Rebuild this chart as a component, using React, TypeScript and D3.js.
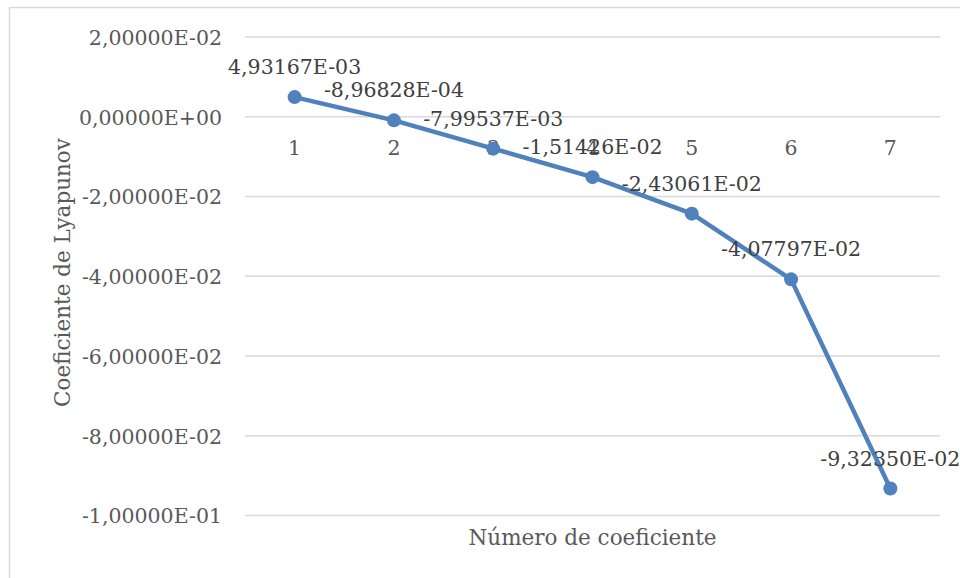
import React from "react";
import * as d3 from "d3";

const categories = ["1", "2", "3", "4", "5", "6", "7"];
const values = [4.93167e-3, -8.96828e-4, -7.99537e-3, -1.51426e-2, -2.43061e-2, -4.07797e-2, -9.3235e-2];
const yTicks = [0.02, 0, -0.02, -0.04, -0.06, -0.08, -0.1];
const xTitle = "Número de coeficiente";
const yTitle = "Coeficiente de Lyapunov";

function fmt(v: number): string {
  const [m, e] = v.toExponential(5).split("e");
  const ex = parseInt(e, 10);
  const sign = ex < 0 ? "-" : "+";
  const ee = String(Math.abs(ex)).padStart(2, "0");
  return m.replace(".", ",") + "E" + sign + ee;
}

export default function App() {
  const W = 960, H = 578;
  const left = 245, right = 940;
  const x = d3.scaleBand<string>().domain(categories).range([left, right]);
  const y = d3.scaleLinear().domain([-0.1, 0.02]).range([515.5, 37]);
  const font = "'DejaVu Serif', serif";
  const fs = 20.5;
  const textColor = "#595959";
  const cx = (c: string) => (x(c) as number) + x.bandwidth() / 2;
  const line = d3
    .line<number>()
    .x((_, i) => cx(categories[i]))
    .y((d) => y(d));

  return (
    <svg width={W} height={H} style={{ position: "absolute", left: 0, top: 0 }} fontFamily={font}>
      <rect x={0} y={0} width={W} height={H} fill="#fff" />
      <rect x={9.5} y={7.5} width={W + 10} height={H + 10} fill="none" stroke="#d9d9d9" strokeWidth={1.5} />
      {yTicks.map((t) => (
        <g key={t}>
          <line x1={left} x2={right} y1={y(t)} y2={y(t)} stroke="#d9d9d9" strokeWidth={1.5} />
          <text x={222} y={y(t)} dy="0.38em" textAnchor="end" fontSize={fs} fill={textColor}>
            {fmt(t)}
          </text>
        </g>
      ))}
      {categories.map((c) => (
        <text key={c} x={cx(c)} y={155} textAnchor="middle" fontSize={fs} fill={textColor}>
          {c}
        </text>
      ))}
      <path d={line(values) as string} fill="none" stroke="#4f81bd" strokeWidth={4.5} strokeLinejoin="round" />
      {values.map((v, i) => (
        <circle key={i} cx={cx(categories[i])} cy={y(v)} r={7} fill="#4f81bd" />
      ))}
      {values.map((v, i) => (
        <text key={"l" + i} x={cx(categories[i])} y={y(v) - 23} textAnchor="middle" fontSize={fs} fill="#404040">
          {fmt(v)}
        </text>
      ))}
      <text x={(left + right) / 2} y={545} textAnchor="middle" fontSize={21.5} fill={textColor}>
        {xTitle}
      </text>
      <text
        transform={`translate(70, 272.5) rotate(-90)`}
        textAnchor="middle"
        fontSize={21.5}
        fill={textColor}
      >
        {yTitle}
      </text>
    </svg>
  );
}
